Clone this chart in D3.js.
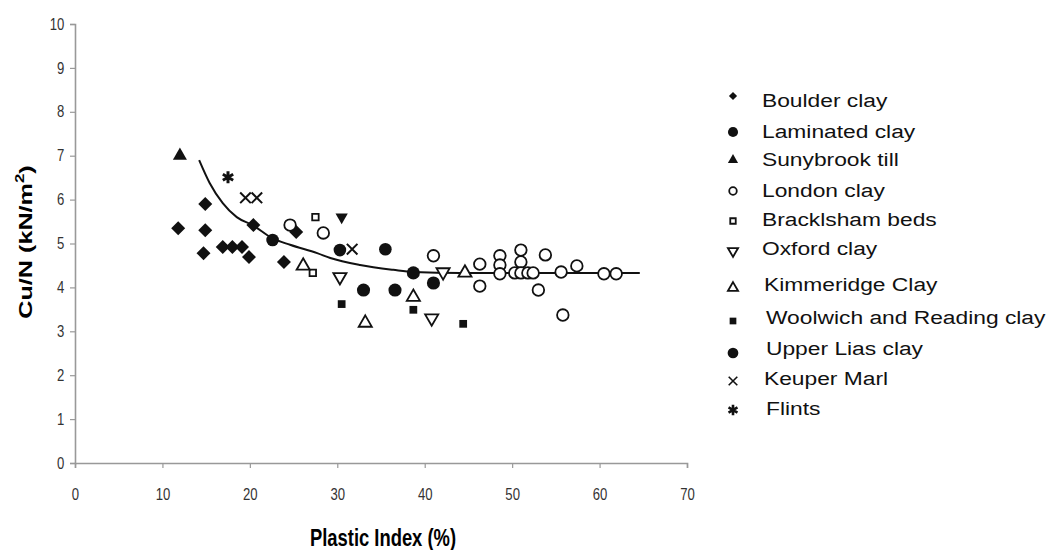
<!DOCTYPE html>
<html>
<head>
<meta charset="utf-8">
<script src="https://cdn.jsdelivr.net/npm/d3@7"></script>
<style>
  body { margin: 0; background: #fff; }
  .tick text { font-family: "Liberation Sans Narrow", "Liberation Sans", sans-serif; font-size: 16px; fill: #333; }
  .legend text { font-family: "Liberation Sans", Arial, sans-serif; font-size: 19px; fill: #111; }
</style>
</head>
<body>
<script>
// data: [plastic index, Cu/N]
var boulder = [[11.8,5.35],[14.9,5.9],[14.9,5.3],[14.7,4.78],[16.9,4.92],[18.0,4.92],[19.1,4.92],[19.9,4.69],[20.4,5.42],[23.9,4.58],[25.3,5.26]];
var laminated = [[22.6,5.08],[30.3,4.85],[35.5,4.87]];
var sunybrook = [[12.0,7.0]];
var london = [[24.6,5.42],[28.4,5.24],[41.0,4.72],[46.3,4.53],[46.3,4.03],[48.6,4.72],[48.6,4.51],[48.6,4.31],[50.3,4.33],[51.0,4.85],[51.0,4.58],[51.0,4.33],[51.8,4.33],[52.4,4.33],[53.8,4.74],[53.0,3.94],[55.6,4.35],[55.8,3.37],[57.4,4.49],[60.5,4.31],[61.9,4.31]];
var bracklsham = [[27.5,5.6],[27.2,4.33]];
var oxford = [[30.3,4.24],[40.8,3.3],[42.1,4.35]];
var oxfordFilled = [[30.5,5.6]];
var kimmeridge = [[26.1,4.49],[33.2,3.19],[38.7,3.78],[44.6,4.33]];
var woolwich = [[30.5,3.62],[38.7,3.49],[44.4,3.17]];
var upperLias = [[33.0,3.94],[36.6,3.94],[38.7,4.33],[41.0,4.1]];
var keuper = [[19.5,6.04],[20.8,6.04],[31.7,4.87]];
var flints = [[17.5,6.51]];

// trend curve, points
var trend = [[14.2,6.9],[15.4,6.38],[16.9,5.92],[18.5,5.6],[20.3,5.42],[22.5,5.13],[24.6,4.97],[27.7,4.78],[29.2,4.67],[32.6,4.51],[36.4,4.4],[38.7,4.35],[44.1,4.33],[54.3,4.33],[64.6,4.33]];

var xTicks = [0,10,20,30,40,50,60,70];
var yTicks = [0,1,2,3,4,5,6,7,8,9,10];

var width = 1055,
	height = 550;

var svg = d3.select("body").append("svg")
	.attr("width", width)
	.attr("height", height);

var x = d3.scaleLinear().domain([0, 70]).range([75, 687]);
var y = d3.scaleLinear().domain([0, 10]).range([463, 24]);

// axes
var xAxis = svg.append("g")
	.attr("transform", "translate(0," + y(0) + ")")
	.call(d3.axisBottom(x).tickValues(xTicks).tickSize(5).tickPadding(21));
var yAxis = svg.append("g")
	.attr("transform", "translate(" + x(0) + ",0)")
	.call(d3.axisLeft(y).tickValues(yTicks).tickSize(5).tickPadding(6));

[xAxis, yAxis].forEach(function(a){
	a.select(".domain").attr("stroke", "#999").attr("stroke-width", 1.6);
	a.selectAll(".tick line").attr("stroke", "#999").attr("stroke-width", 1.2);
});
// narrow-looking tick digits
xAxis.selectAll(".tick text").attr("transform", "scale(0.82,1)");
yAxis.selectAll(".tick text").attr("x", -13).attr("transform", "scale(0.82,1)");

svg.append("text")
	.attr("transform", "translate(383,546) scale(0.8,1)")
	.attr("text-anchor", "middle")
	.style("font-family", "'Liberation Sans', Arial, sans-serif")
	.style("font-weight", "bold").style("font-size", "23px")
	.text("Plastic Index (%)");

var yt = svg.append("text")
	.attr("transform", "translate(32,242) rotate(-90) scale(1.4,1)")
	.attr("text-anchor", "middle")
	.style("font-family", "'Liberation Sans', Arial, sans-serif")
	.style("font-weight", "bold").style("font-size", "18px");
yt.append("tspan").text("Cu/N (kN/m");
yt.append("tspan").attr("dy", -8).style("font-size", "12px").text("2");
yt.append("tspan").attr("dy", 8).text(")");

// trend line
svg.append("path")
	.datum(trend)
	.attr("fill", "none")
	.attr("stroke", "#111")
	.attr("stroke-width", 2)
	.attr("d", d3.line()
		.x(function(d){ return x(d[0]); })
		.y(function(d){ return y(d[1]); })
		.curve(d3.curveMonotoneX));

// series definitions: symbol type, size, filled, rotation, stroke width for line symbols
var series = [
	{name: "Boulder clay", data: boulder, type: d3.symbolSquare, size: 98, lsize: 34, fill: true, rot: 45},
	{name: "Laminated clay", data: laminated, type: d3.symbolCircle, size: 125, lsize: 80, fill: true},
	{name: "Sunybrook till", data: sunybrook, type: d3.symbolTriangle, size: 85, lsize: 45, fill: true},
	{name: "London clay", data: london, type: d3.symbolCircle, size: 105, lsize: 45, fill: false},
	{name: "Bracklsham beds", data: bracklsham, type: d3.symbolSquare, size: 42, lsize: 30, fill: false},
	{name: "Oxford clay", data: oxford, type: d3.symbolTriangle, size: 75, lsize: 45, fill: false, rot: 180},
	{name: "Kimmeridge Clay", data: kimmeridge, type: d3.symbolTriangle, size: 75, lsize: 45, fill: false},
	{name: "Woolwich and Reading clay", data: woolwich, type: d3.symbolSquare, size: 60, lsize: 45, fill: true},
	{name: "Upper Lias clay", data: upperLias, type: d3.symbolCircle, size: 135, lsize: 90, fill: true},
	{name: "Keuper Marl", data: keuper, type: d3.symbolTimes, size: 75, lsize: 50, fill: false, stroke: 2},
	{name: "Flints", data: flints, type: d3.symbolAsterisk, size: 100, lsize: 75, fill: false, stroke: 3}
];

function styleMark(sel, s){
	if (s.stroke) {
		sel.attr("fill", "none").attr("stroke", "#111").attr("stroke-width", s.stroke);
	} else if (s.fill) {
		sel.attr("fill", "#111").attr("stroke", "none");
	} else {
		sel.attr("fill", "#fff").attr("stroke", "#111").attr("stroke-width", 1.8);
	}
}

series.forEach(function(s){
	var g = svg.append("g");
	var m = g.selectAll("path").data(s.data).enter().append("path")
		.attr("d", d3.symbol().type(s.type).size(s.size))
		.attr("transform", function(d){
			return "translate(" + x(d[0]) + "," + y(d[1]) + ")" + (s.rot ? " rotate(" + s.rot + ")" : "");
		});
	styleMark(m, s);
});

// the one solid down-triangle
svg.append("g").selectAll("path").data(oxfordFilled).enter().append("path")
	.attr("d", d3.symbol().type(d3.symbolTriangle).size(65))
	.attr("transform", function(d){ return "translate(" + x(d[0]) + "," + y(d[1]) + ") rotate(180)"; })
	.attr("fill", "#111");

// legend
var legY = [96, 132, 160, 191, 221, 251, 288, 321, 353, 381, 410];
var txtY = [100, 131, 159, 190, 219, 248, 284, 317, 348, 378, 408];
var txtX = [762, 762, 762, 762, 762, 762, 764, 766, 766, 764, 766];

var legend = svg.append("g").attr("class", "legend");
series.forEach(function(s, i){
	var m = legend.append("path")
		.attr("d", d3.symbol().type(s.type).size(s.lsize))
		.attr("transform", "translate(733," + legY[i] + ")" + (s.rot ? " rotate(" + s.rot + ")" : ""));
	styleMark(m, s);
	if (s.stroke) m.attr("stroke-width", s.stroke - 0.4);
	legend.append("text")
		.attr("transform", "translate(" + txtX[i] + "," + txtY[i] + ") scale(1.2,1)")
		.attr("dy", "0.35em")
		.text(s.name);
});
</script>
</body>
</html>
